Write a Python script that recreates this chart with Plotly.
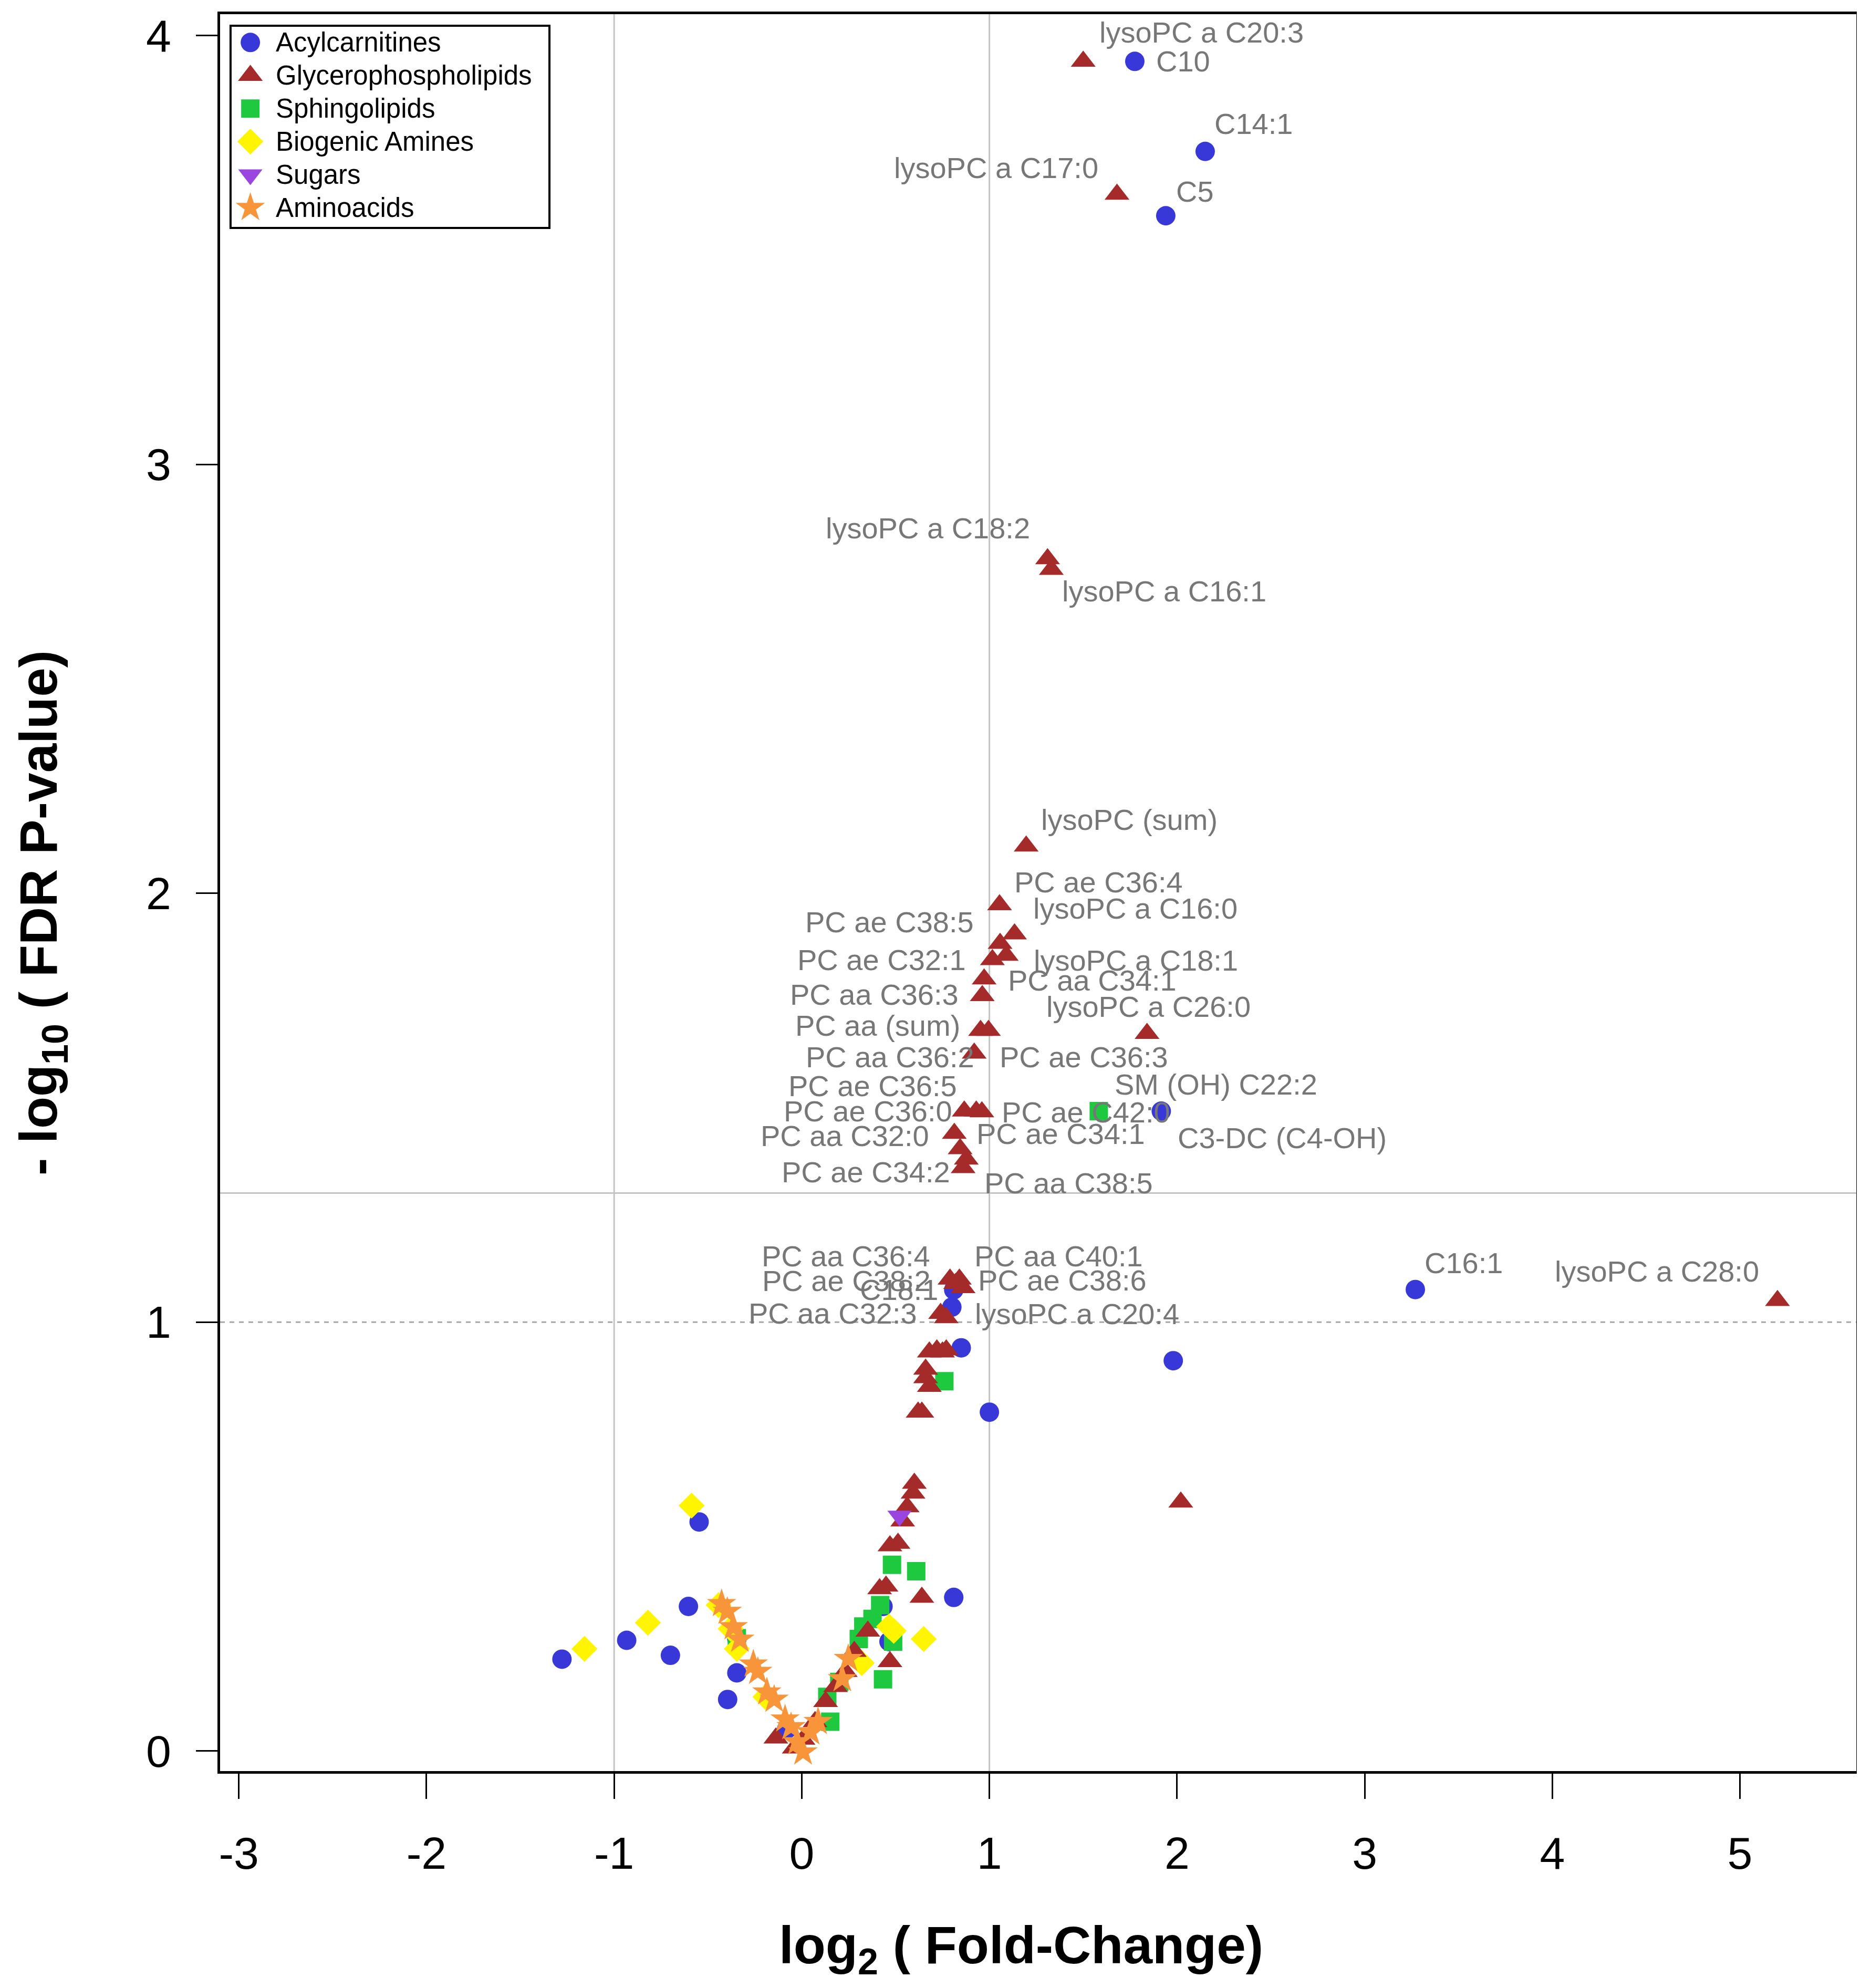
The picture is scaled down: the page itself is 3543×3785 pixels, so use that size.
import plotly.graph_objects as go

# ---------------- data (log2 fold-change, -log10 FDR p-value, label) ----------------
acyl_names = ["C10", "C14:1", "C5", "C3-DC (C4-OH)", "C18:1", "C16:1",
              "", "", "", "", "", "", "", "", "", "", "", "", "", "", "", ""]
acyl_x = [1.775, 2.15, 1.94, 1.916, 0.81, 3.27,
          0.80, 0.85, 1.98, 1.00, -1.278, -0.933, -0.70, -0.604, -0.547, -0.346,
          -0.346, -0.395, -0.081, 0.433, 0.465, 0.81]
acyl_y = [3.94, 3.73, 3.58, 1.492, 1.075, 1.076,
          1.035, 0.94, 0.91, 0.79, 0.214, 0.258, 0.223, 0.337, 0.534, 0.261,
          0.182, 0.12, 0.05, 0.337, 0.255, 0.358]

glyco_names = ["lysoPC a C20:3", "lysoPC a C17:0", "lysoPC a C18:2", "lysoPC a C16:1",
               "lysoPC (sum)", "PC ae C36:4", "lysoPC a C16:0", "PC ae C38:5",
               "lysoPC a C18:1", "PC ae C32:1", "PC aa C34:1", "PC aa C36:3",
               "PC aa (sum)", "PC ae C36:3", "lysoPC a C26:0", "PC aa C36:2",
               "PC ae C36:5", "PC ae C36:0", "PC ae C42:0", "PC aa C32:0",
               "PC ae C34:1", "PC ae C34:2", "PC aa C38:5", "PC aa C36:4",
               "PC ae C38:2", "PC aa C40:1", "PC ae C38:6", "PC aa C32:3",
               "lysoPC a C20:4", "lysoPC a C28:0"] + [""] * 29
glyco_x = [1.50, 1.68, 1.31, 1.33, 1.196, 1.054, 1.134, 1.057, 1.09, 1.016, 0.972, 0.962,
           0.953, 0.995, 1.84, 0.919, 0.866, 0.930, 0.96, 0.813, 0.844, 0.877, 0.86, 0.79,
           0.82, 0.84, 0.86, 0.74, 0.77, 5.20,
           0.68, 0.72, 0.75, 0.77, 0.66, 0.66, 0.68, 0.64, 0.62, 2.02, 0.60, 0.593, 0.562,
           0.538, 0.513, 0.47, 0.449, 0.415, 0.64, 0.47, 0.352, 0.28, 0.232, 0.18, 0.127,
           0.071, 0.007, -0.138, -0.04]
glyco_y = [3.94, 3.63, 2.78, 2.755, 2.11, 1.973, 1.905, 1.883, 1.855, 1.845, 1.80, 1.761,
           1.68, 1.68, 1.673, 1.627, 1.492, 1.492, 1.49, 1.44, 1.404, 1.38, 1.36, 1.10,
           1.09, 1.10, 1.08, 1.02, 1.01, 1.05,
           0.93, 0.935, 0.93, 0.935, 0.89, 0.87, 0.85, 0.79, 0.79, 0.58, 0.624, 0.601, 0.569,
           0.536, 0.484, 0.478, 0.384, 0.378, 0.358, 0.208, 0.279, 0.232, 0.185, 0.15, 0.115,
           0.068, 0.027, 0.03, 0.0065]

sphingo_names = ["SM (OH) C22:2"] + [""] * 13
sphingo_x = [1.583, 0.76, 0.481, 0.61, 0.418, 0.377, 0.328, 0.304, 0.487, 0.433, 0.20,
             0.136, 0.152, -0.346]
sphingo_y = [1.492, 0.862, 0.434, 0.419, 0.34, 0.308, 0.29, 0.261, 0.255, 0.167, 0.161,
             0.126, 0.068, 0.263]

amine_x = [-1.158, -0.82, -0.587, -0.443, -0.379, -0.346, -0.194, 0.465, 0.32, 0.65, 0.49]
amine_y = [0.238, 0.299, 0.572, 0.34, 0.285, 0.238, 0.126, 0.29, 0.205, 0.261, 0.28]

sugar_x = [0.521]
sugar_y = [0.548]

amino_x = [-0.427, -0.397, -0.365, -0.33, -0.258, -0.234, -0.186, -0.147, -0.089, -0.057,
           -0.025, 0.007, 0.047, 0.087, 0.216, 0.248]
amino_y = [0.343, 0.325, 0.289, 0.26, 0.202, 0.185, 0.137, 0.12, 0.074, 0.056,
           0.021, -0.003, 0.044, 0.068, 0.168, 0.215]

classes = ["Acylcarnitines", "Glycerophospholipids", "Sphingolipids",
           "Biogenic Amines", "Sugars", "Aminoacids"]

x_ticks = [-3, -2, -1, 0, 1, 2, 3, 4, 5]
y_ticks = [0, 1, 2, 3, 4]

fc_cut = 1.0          # |log2 FC| reference lines
fdr_cut = 1.30103     # -log10(0.05)
fdr_cut2 = 1.0        # -log10(0.1)

# ---------------- styling ----------------
S = 3543 / 1464.0
FONT = "Liberation Sans, Arial, sans-serif"
styles = {
    "Acylcarnitines": dict(symbol="circle", color="#3838D8", size=37),
    "Glycerophospholipids": dict(symbol="triangle-up", color="#A52A2A", size=41),
    "Sphingolipids": dict(symbol="square", color="#1FC93F", size=35),
    "Biogenic Amines": dict(symbol="diamond", color="#FFF500", size=38),
    "Sugars": dict(symbol="triangle-down", color="#9B45E0", size=40),
    "Aminoacids": dict(symbol="star", color="#F8953A", size=42),
}

# label offsets (reference display pixels) relative to the point
label_offsets = {
    "lysoPC a C20:3": (93, -23), "C10": (38, 0), "C14:1": (38, -22),
    "lysoPC a C17:0": (-95, -21), "C5": (23, -19), "lysoPC a C18:2": (-94, -24),
    "lysoPC a C16:1": (89, 17), "lysoPC (sum)": (81, -21), "PC ae C36:4": (78, -18),
    "lysoPC a C16:0": (95, -20), "PC ae C38:5": (-87, -17), "lysoPC a C18:1": (102, 4),
    "PC ae C32:1": (-87, 0), "PC aa C34:1": (85, 1), "PC aa C36:3": (-85, -1),
    "PC aa (sum)": (-81, -4), "PC ae C36:3": (75, 21), "lysoPC a C26:0": (1, -21),
    "PC aa C36:2": (-66, 3), "PC ae C36:5": (-72, -20), "PC ae C36:0": (-85, 0),
    "PC ae C42:0": (82, 0), "SM (OH) C22:2": (92, -21), "C3-DC (C4-OH)": (95, 21),
    "PC aa C32:0": (-86, 2), "PC ae C34:1": (79, -12), "PC ae C34:2": (-79, 10),
    "PC aa C38:5": (83, 12), "PC aa C36:4": (-82, -18), "PC ae C38:2": (-86, -2),
    "C18:1": (-43, 0), "PC aa C40:1": (78, -18), "PC ae C38:6": (78, -6),
    "PC aa C32:3": (-85, 0), "lysoPC a C20:4": (103, -3), "C16:1": (38, -21),
    "lysoPC a C28:0": (-95, -23),
}

series = [
    ("Acylcarnitines", acyl_x, acyl_y, acyl_names),
    ("Sphingolipids", sphingo_x, sphingo_y, sphingo_names),
    ("Biogenic Amines", amine_x, amine_y, [""] * len(amine_x)),
    ("Glycerophospholipids", glyco_x, glyco_y, glyco_names),
    ("Sugars", sugar_x, sugar_y, [""]),
    ("Aminoacids", amino_x, amino_y, [""] * len(amino_x)),
]

fig = go.Figure()
annotations = []
for cls, xs, ys, names in series:
    st = styles[cls]
    fig.add_trace(go.Scatter(
        x=xs, y=ys, mode="markers", name=cls, showlegend=False,
        marker=dict(symbol=st["symbol"], color=st["color"], size=st["size"],
                    line=dict(width=0)),
    ))
    for xv, yv, nm in zip(xs, ys, names):
        if nm:
            dx, dy = label_offsets[nm]
            annotations.append(dict(
                x=xv, y=yv, xref="x", yref="y", text=nm, showarrow=False,
                xshift=dx * S, yshift=-dy * S, xanchor="center", yanchor="middle",
                font=dict(family=FONT, size=56, color="#777777")))

# ---------------- custom legend (overlay axes spanning the plot area) ----------------
leg_top, leg_step = 0.9839, 0.01881
leg_mx, leg_tx = 0.0185, 0.0334
for i, cls in enumerate(classes):
    st = styles[cls]
    yy = leg_top - i * leg_step
    fig.add_trace(go.Scatter(
        x=[leg_mx], y=[yy], xaxis="x2", yaxis="y2", mode="markers", showlegend=False,
        hoverinfo="skip",
        marker=dict(symbol=st["symbol"], color=st["color"], size=st["size"],
                    line=dict(width=0))))
    annotations.append(dict(
        x=leg_tx, y=yy, xref="paper", yref="paper", text=cls, showarrow=False,
        xanchor="left", yanchor="middle",
        font=dict(family=FONT, size=51, color="black")))

shapes = [
    dict(type="rect", xref="paper", yref="paper", x0=0.0064, x1=0.2013, y0=0.8783,
         y1=0.9934, line=dict(color="black", width=4), fillcolor="white", layer="below"),
]
for xv in (-fc_cut, fc_cut):
    shapes.append(dict(type="line", xref="x", yref="paper", x0=xv, x1=xv, y0=0, y1=1,
                       line=dict(color="#C4C4C4", width=3), layer="below"))
shapes.append(dict(type="line", xref="paper", yref="y", x0=0, x1=1, y0=fdr_cut, y1=fdr_cut,
                   line=dict(color="#C4C4C4", width=3), layer="below"))
shapes.append(dict(type="line", xref="paper", yref="y", x0=0, x1=1, y0=fdr_cut2, y1=fdr_cut2,
                   line=dict(color="#A8A8A8", width=3, dash="dash"), layer="below"))

# axis titles
annotations.append(dict(
    x=0.4896, y=-0.1013, xref="paper", yref="paper", showarrow=False,
    text="<b>log<sub>2</sub> ( Fold-Change)</b>", xanchor="center", yanchor="middle",
    font=dict(family=FONT, size=100, color="black")))
annotations.append(dict(
    x=-0.1085, y=0.4885, xref="paper", yref="paper", showarrow=False, textangle=-90,
    text="<b>- log<sub>10</sub> ( FDR P-value)</b>", xanchor="center", yanchor="middle",
    font=dict(family=FONT, size=100, color="black")))

fig.update_layout(
    width=3543, height=3785,
    margin=dict(l=411, r=17, t=19, b=421),
    paper_bgcolor="white", plot_bgcolor="white",
    shapes=shapes, annotations=annotations,
    xaxis=dict(range=[-3.10, 5.62], tickvals=x_ticks, ticktext=[str(v) for v in x_ticks],
               ticks="outside", ticklen=48, tickwidth=3, tickcolor="black",
               tickfont=dict(family=FONT, size=86, color="black"), ticklabelstandoff=30,
               showline=True, linewidth=5, linecolor="black", mirror=True,
               showgrid=False, zeroline=False),
    yaxis=dict(range=[-0.047, 4.05], tickvals=y_ticks, ticktext=[str(v) for v in y_ticks],
               ticks="outside", ticklen=41, tickwidth=3, tickcolor="black",
               tickfont=dict(family=FONT, size=86, color="black"), ticklabelstandoff=30,
               showline=True, linewidth=5, linecolor="black", mirror=True,
               showgrid=False, zeroline=False),
    xaxis2=dict(overlaying="x", range=[0, 1], visible=False, domain=[0, 1]),
    yaxis2=dict(overlaying="y", range=[0, 1], visible=False, domain=[0, 1]),
)

fig.write_html("out.html")
